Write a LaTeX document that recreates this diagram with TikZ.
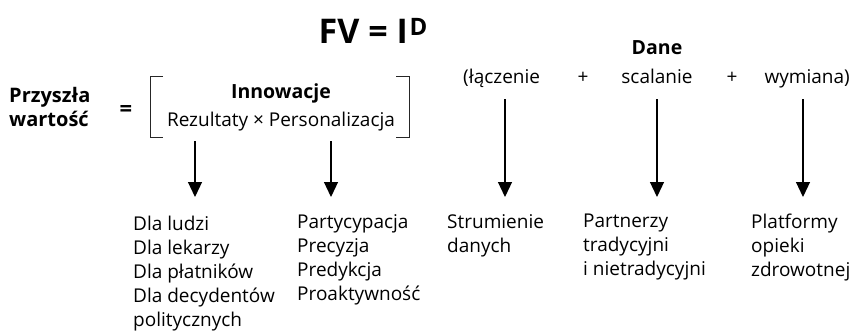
\documentclass[tikz,border=0pt]{standalone}
\usepackage{fontspec}
\setmainfont{Open Sans}
\usetikzlibrary{arrows.meta}
\begin{document}
\begin{tikzpicture}[x=1pt,y=-1pt,
  body/.style={font=\fontsize{19}{24}\selectfont, inner sep=0pt, align=left, anchor=north west},
  txt/.style={font=\fontsize{19}{24}\selectfont, inner sep=0pt, anchor=base},
  bold/.style={font=\fontsize{19.5}{24}\selectfont\bfseries, inner sep=0pt, anchor=base},
  brack/.style={line width=0.9pt, black!85},
  arr/.style={line width=1.2pt, -{Triangle[length=15pt,width=14pt]}}]
\useasboundingbox (0,0) rectangle (854,333);
% title
\node[font=\fontsize{34}{40}\selectfont\bfseries, inner sep=0pt, anchor=base east] (fv) at (408,43) {FV = I};
\node[font=\fontsize{24}{28}\selectfont\bfseries, inner sep=0pt, anchor=base west] (fvd) at (409.5,35) {D};
% left part
\node[font=\fontsize{20}{24}\selectfont\bfseries, inner sep=0pt, align=left, anchor=north west] (pw) at (9,87) {Przyszła\\wartość};
\node[font=\fontsize{22}{24}\selectfont\bfseries, inner sep=0pt, anchor=base] (eq) at (126,116) {=};
\node[bold] (inn) at (281,98) {Innowacje};
\node[txt] (rez) at (281,126) {Rezultaty × Personalizacja};
\draw[brack] (163,76) -- (150,76) -- (150,137) -- (163,137);
\draw[brack] (396,76) -- (409,76) -- (409,137) -- (396,137);
% right part
\node[bold] (dane) at (657,54) {Dane};
\node[txt, anchor=base west] (lacz) at (463,83) {(łączenie};
\node[txt] (p1) at (583,83) {+};
\node[txt] (scal) at (657,83) {scalanie};
\node[txt] (p2) at (732,83) {+};
\node[txt, anchor=base east] (wym) at (850,83) {wymiana)};
% arrow coordinates
\coordinate (s1) at (195,141); \coordinate (e1) at (195,197);
\coordinate (s2) at (331,141); \coordinate (e2) at (331,197);
\coordinate (s3) at (505,99); \coordinate (e3) at (505,197);
\coordinate (s4) at (657,99); \coordinate (e4) at (657,197);
\coordinate (s5) at (803,99); \coordinate (e5) at (803,197);
\draw[arr] (s1) -- (e1);
\draw[arr] (s2) -- (e2);
\draw[arr] (s3) -- (e3);
\draw[arr] (s4) -- (e4);
\draw[arr] (s5) -- (e5);
% lists
\node[body] (l1) at (133,216) {Dla ludzi\\Dla lekarzy\\Dla płatników\\Dla decydentów\\politycznych};
\node[body] (l2) at (297,214) {Partycypacja\\Precyzja\\Predykcja\\Proaktywność};
\node[body] (l3) at (447,214) {Strumienie\\danych};
\node[body] (l4) at (583,214) {Partnerzy\\tradycyjni\\i nietradycyjni};
\node[body] (l5) at (751,214) {Platformy\\opieki\\zdrowotnej};
\end{tikzpicture}
\end{document}
